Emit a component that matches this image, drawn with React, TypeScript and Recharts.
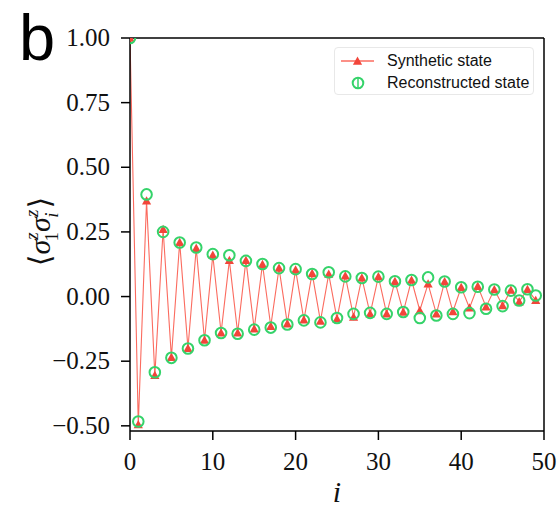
import {
  ComposedChart,
  Line,
  XAxis,
  YAxis,
  Legend,
  ReferenceLine,
} from "recharts";

const siteIndex = Array.from({ length: 50 }, (_, k) => k);

const syntheticState = [
  1.0, -0.495, 0.37, -0.305, 0.26, -0.235, 0.21, -0.2, 0.187, -0.168,
  0.16, -0.14, 0.14, -0.14, 0.14, -0.125, 0.125, -0.115, 0.11, -0.105,
  0.103, -0.09, 0.09, -0.095, 0.087, -0.086, 0.08, -0.079, 0.072, -0.067,
  0.077, -0.067, 0.059, -0.06, 0.064, -0.054, 0.049, -0.067, 0.058, -0.058,
  0.036, -0.044, 0.04, -0.04, 0.027, -0.035, 0.025, -0.02, 0.028, -0.015,
];

const reconstructedState = [
  1.0, -0.483, 0.395, -0.293, 0.25, -0.237, 0.209, -0.201, 0.19, -0.169,
  0.164, -0.141, 0.16, -0.144, 0.138, -0.128, 0.126, -0.12, 0.11, -0.108,
  0.106, -0.092, 0.087, -0.1, 0.094, -0.083, 0.078, -0.067, 0.072, -0.063,
  0.077, -0.067, 0.059, -0.06, 0.064, -0.083, 0.074, -0.073, 0.058, -0.067,
  0.036, -0.064, 0.038, -0.047, 0.027, -0.037, 0.023, -0.015, 0.028, 0.004,
];

const xTicks = [0, 10, 20, 30, 40, 50];
const yTicks = [-0.5, -0.25, 0, 0.25, 0.5, 0.75, 1.0];

const data = siteIndex.map((i) => ({
  i,
  synthetic: syntheticState[i],
  reconstructed: reconstructedState[i],
}));

const RED_LINE = "#fb6b5f";
const RED_MARK = "#f2453a";
const GREEN = "#35d36a";
const SERIF = "'Liberation Serif', 'DejaVu Serif', serif";
const SANS = "'Liberation Sans', Arial, sans-serif";

const fmt = (v: number) => (v < 0 ? "\u2212" : "") + Math.abs(v).toFixed(2);

const Triangle = (props: any) => {
  const { cx, cy } = props;
  if (cx == null || cy == null) return null;
  const s = 4.6;
  return (
    <path
      d={`M${cx},${cy - s} L${cx + s},${cy + s * 0.8} L${cx - s},${cy + s * 0.8} Z`}
      fill={RED_MARK}
      stroke="none"
    />
  );
};

const Ring = (props: any) => {
  const { cx, cy } = props;
  if (cx == null || cy == null) return null;
  return <circle cx={cx} cy={cy} r={5.3} fill="none" stroke={GREEN} strokeWidth={2} />;
};

// serif tick labels, like the LaTeX ones in the figure
const XTick = (props: any) => {
  const { x, y, payload } = props;
  return (
    <text x={x} y={y + 18} textAnchor="middle" fontFamily={SERIF} fontSize={25} fill="#111">
      {payload.value}
    </text>
  );
};

const YTick = (props: any) => {
  const { x, y, payload } = props;
  return (
    <text x={x} y={y + 8} textAnchor="end" fontFamily={SERIF} fontSize={25} fill="#111">
      {fmt(payload.value)}
    </text>
  );
};

const YLabel = (props: any) => {
  const vb = props.viewBox || {};
  const cy = vb.y + vb.height / 2 - 3;
  return (
    <g>
      <text x={19} y={60} fontFamily={SANS} fontSize={65} fill="#000">
        b
      </text>
      <text
        transform={`translate(50, ${cy}) rotate(-90)`}
        textAnchor="middle"
        fontFamily={SERIF}
        fontSize={30}
        fill="#111"
      >
        <tspan>{"\u27E8"}</tspan>
        <tspan fontStyle="italic">{"\u03C3"}</tspan>
        <tspan fontStyle="italic" fontSize={19} dy={-12}>z</tspan>
        <tspan fontSize={19} dx={-9} dy={20}>1</tspan>
        <tspan fontStyle="italic" dy={-8}>{"\u03C3"}</tspan>
        <tspan fontStyle="italic" fontSize={19} dy={-12}>z</tspan>
        <tspan fontStyle="italic" fontSize={19} dx={-8} dy={20}>i</tspan>
        <tspan dx={4} dy={-8}>{"\u27E9"}</tspan>
      </text>
    </g>
  );
};

const XLabel = (props: any) => {
  const vb = props.viewBox || {};
  return (
    <text
      x={vb.x + vb.width / 2}
      y={502}
      textAnchor="middle"
      fontFamily={SERIF}
      fontStyle="italic"
      fontSize={30}
      fill="#111"
    >
      i
    </text>
  );
};

const LegendBox = () => (
  <div
    style={{
      width: 200,
      height: 48,
      border: "1px solid #e8e8e8",
      borderRadius: 4,
      background: "rgba(255,255,255,0.8)",
      fontFamily: SANS,
      fontSize: 16,
      color: "#111",
      boxSizing: "border-box",
      paddingTop: 2,
    }}
  >
    <div style={{ display: "flex", alignItems: "center", height: 22 }}>
      <svg width={52} height={20}>
        <line x1={6} y1={10} x2={39} y2={10} stroke={RED_LINE} strokeWidth={1.5} />
        <path d="M22.5,5.4 L27.1,13.7 L17.9,13.7 Z" fill={RED_MARK} />
      </svg>
      <span>Synthetic state</span>
    </div>
    <div style={{ display: "flex", alignItems: "center", height: 22 }}>
      <svg width={52} height={20}>
        <circle cx={23} cy={10} r={5.3} fill="none" stroke={GREEN} strokeWidth={2} />
        <line x1={23} y1={4} x2={23} y2={16} stroke={GREEN} strokeWidth={1.5} />
      </svg>
      <span>Reconstructed state</span>
    </div>
  </div>
);

export default function App() {
  return (
    <div style={{ position: "absolute", left: 0, top: 0, background: "#fff" }}>
      <ComposedChart
        width={559}
        height={511}
        data={data}
        margin={{ top: 38, right: 15, bottom: 0, left: 0 }}
      >
        <XAxis
          dataKey="i"
          type="number"
          domain={[0, 50]}
          ticks={xTicks}
          allowDataOverflow
          height={80}
          stroke="#000"
          strokeWidth={1.5}
          tickSize={9}
          tickMargin={12}
          tick={<XTick />}
          label={<XLabel />}
        />
        <YAxis
          type="number"
          domain={[-0.52, 1.0]}
          ticks={yTicks}
          allowDataOverflow
          width={130}
          stroke="#000"
          strokeWidth={1.5}
          tickSize={9}
          tickMargin={11}
          tick={<YTick />}
          label={<YLabel />}
        />
        <ReferenceLine y={1.0} stroke="#000" strokeWidth={1.5} />
        <ReferenceLine x={50} stroke="#000" strokeWidth={1.5} />
        <Legend
          layout="vertical"
          align="center"
          verticalAlign="middle"
          wrapperStyle={{ left: 334, top: 47, width: 202 }}
          content={<LegendBox />}
        />
        <Line
          dataKey="synthetic"
          name="Synthetic state"
          type="linear"
          stroke={RED_LINE}
          strokeWidth={1.1}
          dot={<Triangle />}
          activeDot={false}
          isAnimationActive={false}
        />
        <Line
          dataKey="reconstructed"
          name="Reconstructed state"
          type="linear"
          stroke="none"
          dot={<Ring />}
          activeDot={false}
          isAnimationActive={false}
        />
      </ComposedChart>
    </div>
  );
}
